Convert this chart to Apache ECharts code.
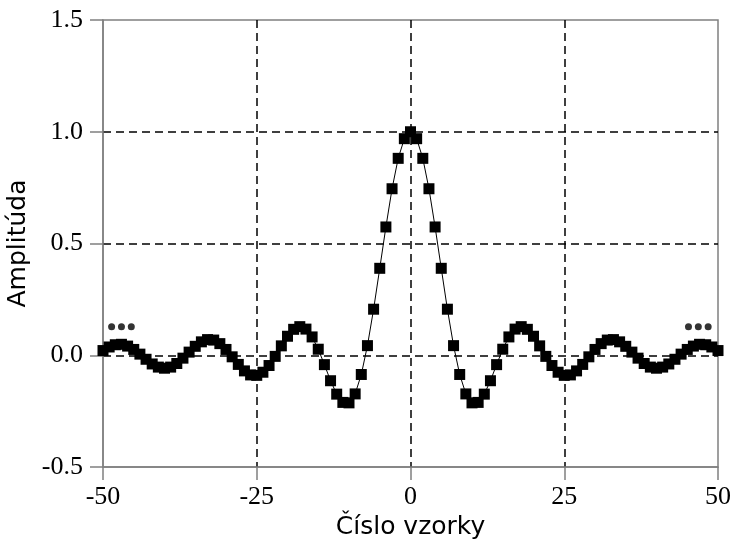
<!DOCTYPE html>
<html>
<head>
<meta charset="utf-8">
<script src="https://cdn.jsdelivr.net/npm/echarts@6/dist/echarts.min.js"></script>
<style>
  html, body { margin: 0; padding: 0; background: #fff; }
  #chart { width: 732px; height: 540px; }
</style>
</head>
<body>
<div id="chart"></div>
<script>
// sample index (x) and amplitude
const samples = [
  -50, -49, -48, -47, -46, -45, -44, -43, -42, -41,
  -40, -39, -38, -37, -36, -35, -34, -33, -32, -31,
  -30, -29, -28, -27, -26, -25, -24, -23, -22, -21,
  -20, -19, -18, -17, -16, -15, -14, -13, -12, -11,
  -10, -9, -8, -7, -6, -5, -4, -3, -2, -1,
  0,
  1, 2, 3, 4, 5, 6, 7, 8, 9, 10,
  11, 12, 13, 14, 15, 16, 17, 18, 19, 20,
  21, 22, 23, 24, 25, 26, 27, 28, 29, 30,
  31, 32, 33, 34, 35, 36, 37, 38, 39, 40,
  41, 42, 43, 44, 45, 46, 47, 48, 49, 50
];
const amplitude = [
  0.021, 0.037, 0.047, 0.049, 0.041, 0.026, 0.005, -0.018, -0.039, -0.053,
  -0.058, -0.053, -0.037, -0.013, 0.014, 0.040, 0.060, 0.070, 0.068, 0.052,
  0.026, -0.007, -0.041, -0.070, -0.088, -0.090, -0.076, -0.046, -0.005, 0.042,
  0.085, 0.116, 0.128, 0.117, 0.082, 0.027, -0.042, -0.114, -0.174, -0.211,
  -0.213, -0.173, -0.086, 0.043, 0.206, 0.389, 0.574, 0.745, 0.881, 0.969,
  1.000,
  0.969, 0.881, 0.745, 0.574, 0.389, 0.206, 0.043, -0.086, -0.173, -0.213,
  -0.211, -0.174, -0.114, -0.042, 0.027, 0.082, 0.117, 0.128, 0.116, 0.085,
  0.042, -0.005, -0.046, -0.076, -0.090, -0.088, -0.070, -0.041, -0.007, 0.026,
  0.052, 0.068, 0.070, 0.060, 0.040, 0.014, -0.013, -0.037, -0.053, -0.058,
  -0.053, -0.039, -0.018, 0.005, 0.026, 0.041, 0.049, 0.047, 0.037, 0.021
];
// "..." continuation marks at both ends
const dotsX = [-48.6, -47.0, -45.4, 45.2, 46.8, 48.4];
const dotsY = [0.127, 0.127, 0.127, 0.127, 0.127, 0.127];

const chart = echarts.init(document.getElementById('chart'));

const tickFont = { color: '#000', fontFamily: '"Liberation Serif", "DejaVu Serif", serif', fontSize: 26 };
const nameFont = { color: '#000', fontFamily: '"DejaVu Sans", sans-serif', fontSize: 25 };
const gridLine = { show: true, showMinLine: false, showMaxLine: false, lineStyle: { color: '#000', width: 1.5, type: [8, 5] } };
const edge = { show: true, onZero: false, lineStyle: { color: '#808080', width: 1.5 } };
const tick = { show: true, inside: false, length: 13, lineStyle: { color: '#808080', width: 1.5 } };

const option = {
  animation: false,
  backgroundColor: '#fff',
  grid: {
    left: 103, right: 14, top: 20, bottom: 73,
    show: true, borderColor: '#808080', borderWidth: 1.5,
    outerBoundsMode: 'none'
  },
  xAxis: {
    type: 'value',
    min: -50, max: 50, interval: 25,
    name: 'Číslo vzorky',
    nameLocation: 'middle',
    nameGap: 43,
    nameTextStyle: nameFont,
    axisLine: edge,
    axisTick: tick,
    axisLabel: Object.assign({ margin: 17 }, tickFont),
    splitLine: gridLine
  },
  yAxis: {
    type: 'value',
    min: -0.5, max: 1.5, interval: 0.5,
    name: 'Amplitúda',
    nameLocation: 'middle',
    nameGap: 66,
    nameTextStyle: nameFont,
    axisLine: edge,
    axisTick: tick,
    axisLabel: Object.assign({ margin: 20, formatter: v => v.toFixed(1) }, tickFont),
    splitLine: gridLine
  },
  series: [
    {
      type: 'line',
      data: samples.map((x, i) => [x, amplitude[i]]),
      symbol: 'rect',
      symbolSize: 11,
      showSymbol: true,
      itemStyle: { color: '#000' },
      lineStyle: { color: '#000', width: 1 },
      z: 5
    },
    {
      type: 'scatter',
      data: dotsX.map((x, i) => [x, dotsY[i]]),
      symbol: 'circle',
      symbolSize: 7,
      itemStyle: { color: '#000' },
      z: 5
    }
  ]
};
chart.setOption(option);
</script>
</body>
</html>
